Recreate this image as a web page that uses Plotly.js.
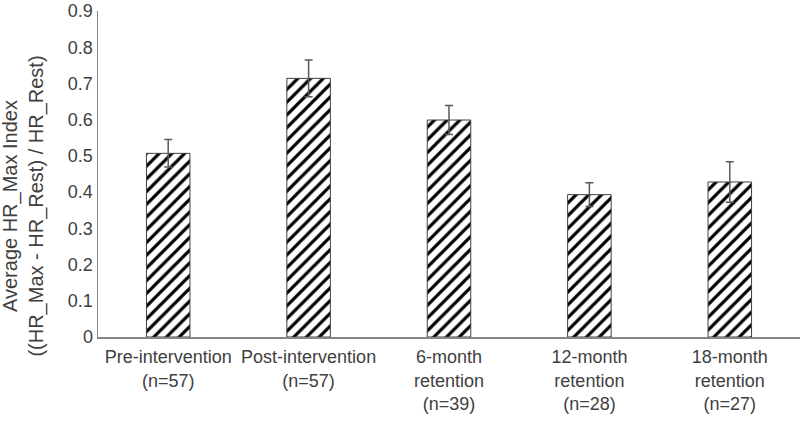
<!DOCTYPE html>
<html>
<head>
<meta charset="utf-8">
<script src="https://cdn.plot.ly/plotly-3.0.1.min.js"></script>
<style>
  html, body { margin: 0; padding: 0; background: #fff; }
  #chart { width: 800px; height: 421px; }
</style>
</head>
<body>
<div id="chart"></div>
<script>
// categories and values
const phases = [
    'Pre-intervention<br>(n=57)',
    'Post-intervention<br>(n=57)',
    '6-month<br>retention<br>(n=39)',
    '12-month<br>retention<br>(n=28)',
    '18-month<br>retention<br>(n=27)'
];
const avgIndex = [0.507, 0.714, 0.599, 0.393, 0.428];
const errIndex = [0.038, 0.051, 0.040, 0.033, 0.056];
const yTicks = [0, 0.1, 0.2, 0.3, 0.4, 0.5, 0.6, 0.7, 0.8, 0.9];
const yTickText = ['0', '0.1', '0.2', '0.3', '0.4', '0.5', '0.6', '0.7', '0.8', '0.9'];

const textColor = '#404040';
const axisColor = '#868686';

const bars = {
    x: phases,
    y: avgIndex,
    type: 'bar',
    marker: {
        color: '#ffffff',
        line: { color: '#404040', width: 1 },
        pattern: { shape: '/', fgcolor: '#000000', bgcolor: '#ffffff', size: 9, solidity: 0.36 }
    },
    error_y: {
        type: 'data',
        array: errIndex,
        visible: true,
        color: '#595959',
        thickness: 1.5,
        width: 4
    },
    hoverinfo: 'x+y'
};

const layout = {
    width: 800,
    height: 421,
    margin: { l: 98, r: 0, t: 11, b: 84 },
    paper_bgcolor: '#ffffff',
    plot_bgcolor: '#ffffff',
    showlegend: false,
    bargap: 0.69,
    font: { family: 'Liberation Sans, Arial, sans-serif', size: 18, color: textColor },
    xaxis: {
        showline: true,
        linecolor: axisColor,
        linewidth: 1.5,
        ticks: '',
        showgrid: false,
        ticklabelstandoff: 3,
        tickfont: { size: 18, color: textColor },
        automargin: false
    },
    yaxis: {
        range: [0, 0.9],
        tickmode: 'array',
        tickvals: yTicks,
        ticktext: yTickText,
        ticklabeloverflow: 'allow',
        showline: true,
        linecolor: axisColor,
        linewidth: 1.5,
        ticks: '',
        showgrid: false,
        zeroline: false,
        tickfont: { size: 18, color: textColor },
        automargin: false
    },
    // axis title sits a bit below the plot middle in the reference, so use an annotation
    annotations: [{
        text: 'Average HR_Max Index<br>((HR_Max - HR_Rest) / HR_Rest)',
        xref: 'paper', yref: 'paper',
        x: 0, y: 0.4,
        xshift: -74,
        xanchor: 'center', yanchor: 'middle',
        textangle: -90,
        showarrow: false,
        font: { size: 20, color: textColor }
    }]
};

Plotly.newPlot('chart', [bars], layout, { displayModeBar: false, staticPlot: true });
</script>
</body>
</html>
